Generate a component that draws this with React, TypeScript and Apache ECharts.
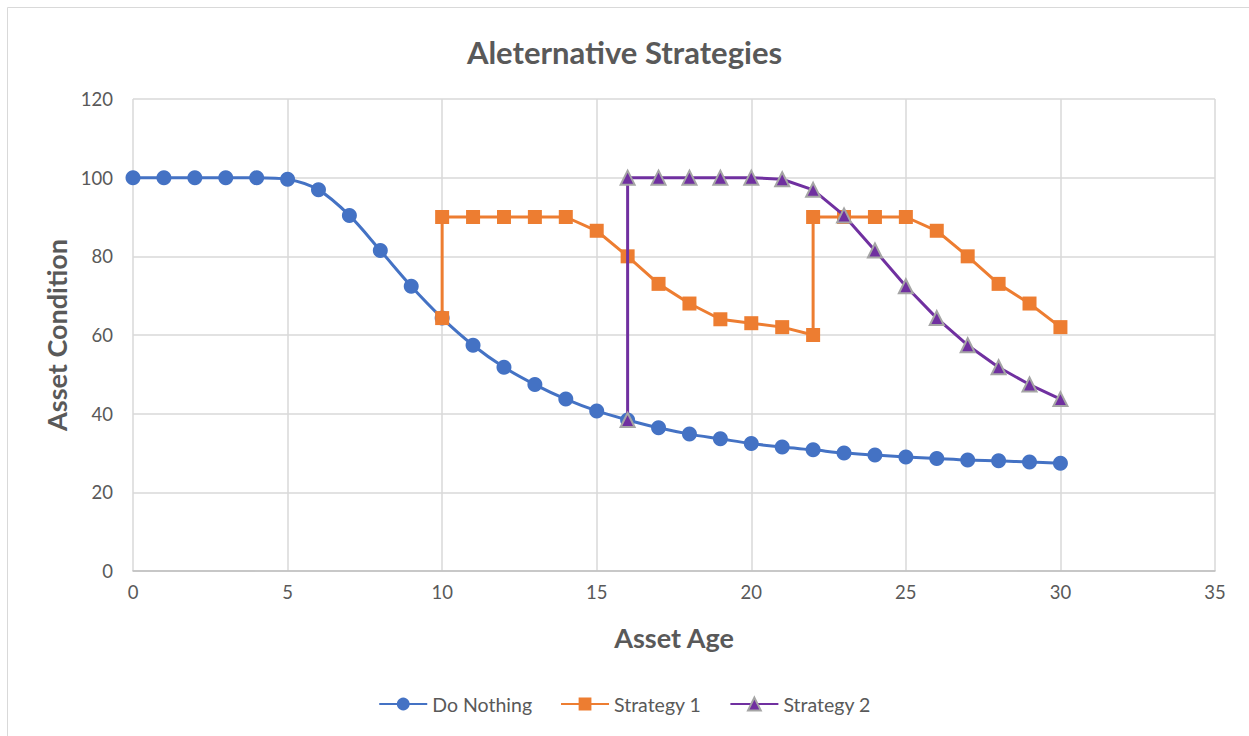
import React, { useEffect, useRef } from "react";
import * as echarts from "echarts";

// Asset age (years) and condition index for each maintenance strategy
const doNothingAge = [0, 1, 2, 3, 4, 5, 6, 7, 8, 9, 10, 11, 12, 13, 14, 15, 16, 17, 18, 19, 20, 21, 22, 23, 24, 25, 26, 27, 28, 29, 30];
const doNothingCondition = [100, 100, 100, 100, 100, 99.6, 96.9, 90.4, 81.5, 72.4, 64.3, 57.4, 51.8, 47.4, 43.7, 40.7, 38.4, 36.4, 34.8, 33.6, 32.4, 31.5, 30.8, 30.0, 29.5, 29.0, 28.6, 28.2, 28.0, 27.7, 27.4];

const strategy1Age = [10, 10, 11, 12, 13, 14, 15, 16, 17, 18, 19, 20, 21, 22, 22, 23, 24, 25, 26, 27, 28, 29, 30];
const strategy1Condition = [64.3, 90, 90, 90, 90, 90, 86.5, 80, 73, 68, 64, 63, 62, 60, 90, 90, 90, 90, 86.5, 80, 73, 68, 62];

const strategy2Age = [16, 16, 17, 18, 19, 20, 21, 22, 23, 24, 25, 26, 27, 28, 29, 30];
const strategy2Condition = [38.4, 100, 100, 100, 100, 100, 99.6, 96.9, 90.4, 81.5, 72.4, 64.3, 57.4, 51.8, 47.4, 43.7];

const seriesNames = ["Do Nothing", "Strategy 1", "Strategy 2"];
const xTicks = { min: 0, max: 35, interval: 5 };
const yTicks = { min: 0, max: 120, interval: 20 };

const pairs = (xs: number[], ys: number[]) => xs.map((x, i) => [x, ys[i]]);

const FONT = "Lato, 'Open Sans', sans-serif";
const TEXT = "#595959";

export default function App() {
  const ref = useRef<HTMLDivElement>(null);

  useEffect(() => {
    if (!ref.current) return;
    const chart = echarts.init(ref.current, null, { renderer: "svg" });
    chart.setOption({
      animation: false,
      backgroundColor: "#ffffff",
      textStyle: { fontFamily: FONT },
      graphic: [
        {
          type: "rect",
          shape: { x: 7.5, y: 7.5, width: 1400, height: 900 },
          style: { fill: "none", stroke: "#d9d9d9", lineWidth: 1 },
          silent: true,
        },
      ],
      title: {
        text: "Aleternative Strategies",
        left: "center",
        top: 31,
        textStyle: { fontFamily: FONT, fontSize: 31, fontWeight: "bold", color: TEXT },
      },
      legend: {
        data: seriesNames,
        top: 689,
        left: "center",
        itemWidth: 48,
        itemHeight: 16,
        itemGap: 28,
        textStyle: { fontFamily: FONT, fontSize: 19.5, color: TEXT },
      },
      grid: { left: 133, right: 34, top: 99, bottom: 165 },
      xAxis: {
        type: "value",
        min: xTicks.min,
        max: xTicks.max,
        interval: xTicks.interval,
        name: "Asset Age",
        nameLocation: "middle",
        nameGap: 53,
        nameTextStyle: { fontFamily: FONT, fontSize: 27, fontWeight: "bold", color: TEXT },
        axisLine: { show: true, lineStyle: { color: "#bfbfbf", width: 1.5 } },
        axisTick: { show: false },
        axisLabel: { color: TEXT, fontSize: 18.5, fontFamily: FONT, margin: 11 },
        splitLine: { show: true, lineStyle: { color: "#d9d9d9", width: 1.5 } },
      },
      yAxis: {
        type: "value",
        min: yTicks.min,
        max: yTicks.max,
        interval: yTicks.interval,
        name: "Asset Condition",
        nameLocation: "middle",
        nameGap: 61,
        nameTextStyle: { fontFamily: FONT, fontSize: 27, fontWeight: "bold", color: TEXT },
        axisLine: { show: false },
        axisTick: { show: false },
        axisLabel: { color: TEXT, fontSize: 18.5, fontFamily: FONT, margin: 20 },
        splitLine: { show: true, lineStyle: { color: "#d9d9d9", width: 1.5 } },
      },
      series: [
        {
          name: seriesNames[0],
          type: "line",
          data: pairs(doNothingAge, doNothingCondition),
          smooth: 0.3,
          symbol: "circle",
          symbolSize: 15,
          color: "#4472c4",
          lineStyle: { width: 3, color: "#4472c4" },
          itemStyle: { color: "#4472c4" },
          z: 2,
        },
        {
          name: seriesNames[1],
          type: "line",
          data: pairs(strategy1Age, strategy1Condition),
          symbol: "rect",
          symbolSize: 14,
          color: "#ed7d31",
          lineStyle: { width: 3, color: "#ed7d31" },
          itemStyle: { color: "#ed7d31" },
          z: 3,
        },
        {
          name: seriesNames[2],
          type: "line",
          data: pairs(strategy2Age, strategy2Condition),
          symbol: "triangle",
          symbolSize: 14,
          color: "#7030a0",
          lineStyle: { width: 3, color: "#7030a0" },
          itemStyle: { color: "#7030a0", borderColor: "#a5a5a5", borderWidth: 2 },
          z: 4,
        },
      ],
    });
    return () => chart.dispose();
  }, []);

  return (
    <div
      ref={ref}
      style={{ position: "fixed", left: 0, top: 0, width: 1249, height: 736, overflow: "hidden" }}
    />
  );
}
